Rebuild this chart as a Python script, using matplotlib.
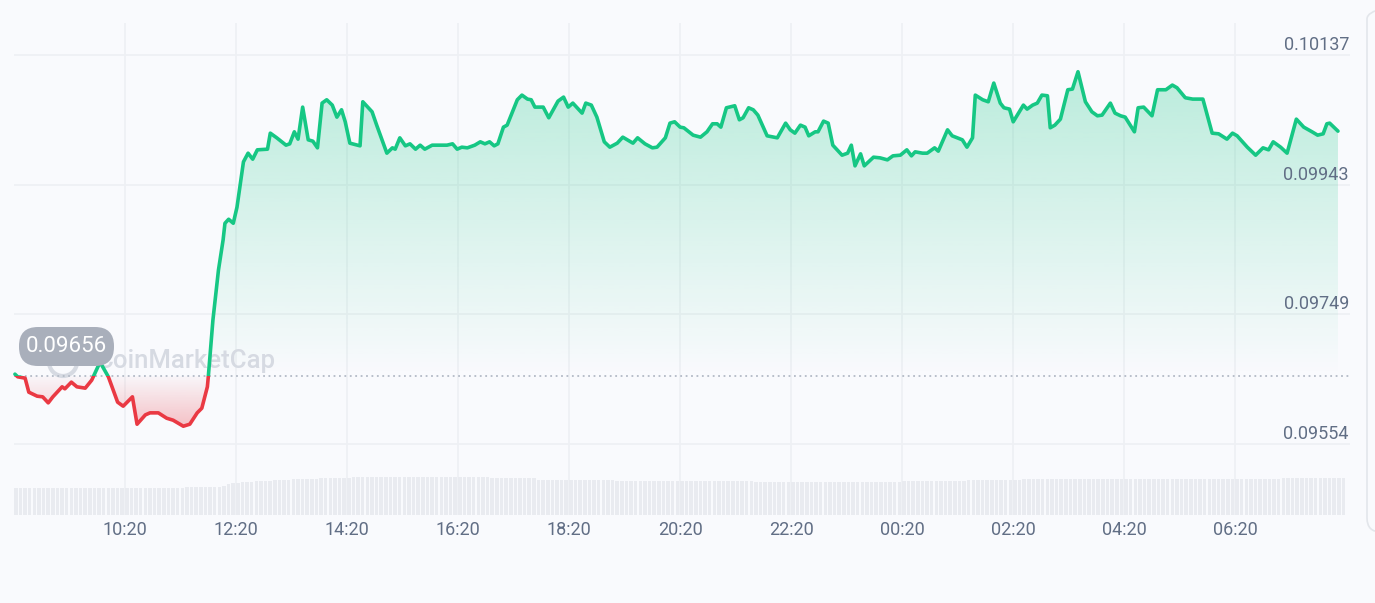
import numpy as np
import pandas as pd
import matplotlib
matplotlib.use("Agg")
import matplotlib.pyplot as plt
import matplotlib.dates as mdates
from matplotlib.colors import to_rgb
from matplotlib.patches import Rectangle, FancyBboxPatch, Circle
from matplotlib.path import Path
from matplotlib.transforms import IdentityTransform, blended_transform_factory, offset_copy

plt.rcParams['font.family'] = ['Roboto', 'DejaVu Sans']

# --- data ---
START = pd.Timestamp('2023-06-01 08:20')
BASELINE = 0.09656  # open price, dotted reference line

# minutes after 08:20
minutes = [
    1, 4, 12, 16, 25, 31, 37, 42, 52, 55, 62, 68, 77, 84, 93, 102, 112, 118, 128, 133,
    142, 147, 156, 165, 172, 183, 190, 198, 203, 209, 210, 215, 221, 226, 228, 232, 237, 241, 248, 253,
    258, 263, 274, 277, 284, 294, 298, 303, 307, 312, 318, 323, 328, 333, 338, 344, 349, 354, 358, 363,
    374, 377, 387, 392, 403, 409, 412, 417, 423, 428, 434, 439, 444, 452, 468, 474, 479, 484, 490, 498,
    504, 509, 514, 519, 523, 529, 533, 544, 549, 555, 559, 563, 572, 578, 588, 594, 599, 604, 614, 618,
    624, 630, 638, 644, 652, 658, 669, 674, 682, 690, 695, 704, 709, 714, 720, 724, 734, 742, 749, 755,
    760, 764, 770, 779, 784, 788, 794, 799, 804, 814, 825, 834, 839, 844, 850, 855, 859, 866, 869, 875,
    880, 885, 895, 901, 905, 909, 915, 919, 929, 936, 944, 950, 958, 965, 970, 974, 982, 987, 995, 999,
    1009, 1014, 1025, 1030, 1036, 1039, 1047, 1053, 1059, 1066, 1070, 1076, 1080, 1091, 1095, 1101, 1106, 1111, 1117, 1120,
    1125, 1131, 1139, 1144, 1150, 1158, 1165, 1171, 1176, 1185, 1190, 1196, 1201, 1211, 1215, 1221, 1230, 1236, 1245, 1252,
    1257, 1266, 1274, 1285, 1295, 1302, 1311, 1317, 1322, 1333, 1342, 1350, 1356, 1361, 1369, 1376, 1386, 1394, 1403, 1409,
    1415, 1419, 1422, 1431,
]
prices = [
    0.09659, 0.09655, 0.09653, 0.09632, 0.09626, 0.09625, 0.09616, 0.09625, 0.09640, 0.09637,
    0.09647, 0.09640, 0.09638, 0.09650, 0.09677, 0.09655, 0.09617, 0.09611, 0.09625, 0.09584,
    0.09598, 0.09601, 0.09601, 0.09593, 0.09590, 0.09581, 0.09584, 0.09601, 0.09608, 0.09640,
    0.09655, 0.09740, 0.09815, 0.09860, 0.09885, 0.09891, 0.09885, 0.09909, 0.09977, 0.09990,
    0.09981, 0.09995, 0.09996, 0.10020, 0.10013, 0.10002, 0.10004, 0.10022, 0.10011, 0.10059,
    0.10010, 0.10008, 0.09998, 0.10065, 0.10070, 0.10062, 0.10044, 0.10055, 0.10037, 0.10005,
    0.10001, 0.10067, 0.10052, 0.10032, 0.09990, 0.09998, 0.09996, 0.10013, 0.10001, 0.10004,
    0.09996, 0.10002, 0.09996, 0.10002, 0.10002, 0.10004, 0.09996, 0.09999, 0.09998, 0.10002,
    0.10007, 0.10004, 0.10007, 0.10001, 0.10004, 0.10029, 0.10032, 0.10070, 0.10077, 0.10071,
    0.10070, 0.10059, 0.10059, 0.10043, 0.10068, 0.10074, 0.10059, 0.10065, 0.10050, 0.10065,
    0.10062, 0.10044, 0.10007, 0.09999, 0.10005, 0.10014, 0.10005, 0.10013, 0.10004, 0.09998,
    0.09999, 0.10013, 0.10035, 0.10037, 0.10029, 0.10028, 0.10017, 0.10014, 0.10022, 0.10034,
    0.10034, 0.10029, 0.10058, 0.10061, 0.10040, 0.10043, 0.10058, 0.10055, 0.10047, 0.10016,
    0.10013, 0.10035, 0.10025, 0.10020, 0.10032, 0.10029, 0.10016, 0.10022, 0.10022, 0.10038,
    0.10035, 0.10002, 0.09987, 0.09990, 0.10002, 0.09971, 0.09989, 0.09971, 0.09984, 0.09983,
    0.09980, 0.09986, 0.09987, 0.09995, 0.09986, 0.09992, 0.09990, 0.09990, 0.09998, 0.09993,
    0.10025, 0.10016, 0.10010, 0.09999, 0.10013, 0.10077, 0.10070, 0.10067, 0.10095, 0.10065,
    0.10058, 0.10056, 0.10037, 0.10062, 0.10056, 0.10062, 0.10065, 0.10077, 0.10076, 0.10028,
    0.10032, 0.10041, 0.10085, 0.10086, 0.10112, 0.10067, 0.10052, 0.10046, 0.10047, 0.10065,
    0.10050, 0.10046, 0.10044, 0.10022, 0.10058, 0.10059, 0.10046, 0.10085, 0.10085, 0.10092,
    0.10088, 0.10073, 0.10071, 0.10071, 0.10020, 0.10019, 0.10011, 0.10020, 0.10016, 0.09999,
    0.09987, 0.09998, 0.09995, 0.10007, 0.09999, 0.09990, 0.10041, 0.10029, 0.10022, 0.10017,
    0.10019, 0.10034, 0.10035, 0.10023,
]

# 5-minute volume bars (24h rolling volume, $M), one row per hour
volumes = [
    40.5, 40.6, 40.6, 40.5, 40.6, 40.7, 40.6, 40.6, 40.5, 40.6, 40.6, 40.7,
    40.7, 40.6, 40.6, 40.7, 40.7, 40.6, 40.6, 40.7, 40.7, 40.8, 40.7, 40.7,
    40.8, 40.8, 40.9, 40.8, 40.9, 41.0, 41.0, 40.9, 41.0, 41.1, 41.1, 41.2,
    41.3, 41.4, 41.6, 41.7, 41.8, 41.9, 42.0, 42.2, 42.4, 44.3, 46.8, 48.0,
    48.6, 49.2, 49.7, 50.1, 50.5, 51.0, 51.4, 51.8, 52.2, 52.6, 52.9, 53.2,
    53.5, 53.8, 54.1, 54.3, 54.6, 54.8, 55.0, 55.2, 55.4, 55.6, 55.8, 56.0,
    56.3, 56.5, 56.7, 56.9, 57.0, 57.1, 57.2, 57.3, 57.3, 57.4, 57.4, 57.4,
    57.4, 57.4, 57.3, 57.3, 57.3, 57.2, 57.2, 57.1, 57.1, 57.0, 57.0, 56.9,
    56.9, 56.8, 56.8, 56.7, 56.6, 56.6, 56.5, 56.4, 56.4, 56.3, 56.2, 56.2,
    56.1, 56.0, 56.0, 55.9, 55.8, 53.2, 52.9, 52.8, 52.7, 52.7, 52.6, 52.6,
    52.5, 52.4, 52.4, 52.3, 52.2, 52.2, 52.1, 52.0, 52.0, 51.9, 51.8, 51.8,
    51.7, 51.7, 51.6, 51.6, 51.5, 51.5, 51.4, 51.4, 51.3, 51.3, 51.2, 51.2,
    51.2, 51.1, 51.1, 51.0, 51.0, 50.9, 50.9, 50.8, 50.8, 50.7, 50.7, 50.6,
    50.6, 50.5, 50.5, 50.4, 50.3, 50.2, 50.1, 50.0, 49.9, 49.8, 49.7, 49.7,
    49.6, 49.6, 49.5, 49.5, 49.4, 49.4, 49.4, 49.3, 49.3, 49.3, 49.2, 49.2,
    49.2, 49.3, 49.4, 49.5, 49.6, 49.7, 49.8, 49.9, 50.0, 50.1, 50.2, 50.3,
    50.4, 50.5, 50.6, 50.7, 50.8, 50.9, 51.0, 51.1, 51.2, 51.3, 51.4, 51.5,
    51.6, 51.8, 51.9, 52.1, 52.2, 52.4, 52.5, 52.7, 52.8, 52.9, 53.0, 53.1,
    53.2, 53.3, 53.4, 53.5, 53.6, 53.7, 53.8, 53.8, 53.9, 53.9, 54.0, 54.0,
    54.0, 54.1, 54.1, 54.1, 54.2, 54.2, 54.2, 54.2, 54.3, 54.3, 54.3, 54.3,
    54.3, 54.4, 54.4, 54.4, 54.4, 54.4, 54.5, 54.5, 54.5, 54.5, 54.5, 54.5,
    54.5, 54.6, 54.6, 54.6, 54.6, 54.6, 54.6, 54.7, 54.7, 54.7, 54.7, 54.7,
    54.7, 54.7, 54.8, 54.8, 54.8, 54.8, 54.8, 54.8, 54.8, 54.8, 54.9, 54.9,
    54.9, 54.9, 54.9, 54.9, 54.9, 55.0, 55.0, 55.0, 55.0, 55.0, 55.0, 55.0,
]

price_ticks = [0.09554, 0.09749, 0.09943, 0.10137]

GREEN = '#16c784'
RED = '#ea3943'
BG = '#f9fafd'
GRID = '#eef0f4'
TEXT = '#616e85'

W, H = 1375, 603

times = (START + pd.to_timedelta(minutes, unit='min')).to_numpy()
price = np.array(prices)
vol_times = (START + pd.to_timedelta(np.arange(len(volumes)) * 5, unit='min')).to_numpy()

fig = plt.figure(figsize=(W / 100, H / 100), dpi=100, facecolor=BG)
ax = fig.add_axes([14 / W, 1 - 515 / H, (1350 - 14) / W, (515 - 23) / H])
ax.set_facecolor(BG)

x_lo = mdates.date2num(START)
x_hi = mdates.date2num(START + pd.Timedelta(minutes=1444))
y_lo, y_hi = 0.09448, 0.10185


def gradient_fill(where, color, far, a_near, a_far):
    # fill between line and baseline, coloured with a vertical alpha ramp
    poly = ax.fill_between(times, price, BASELINE, where=where, interpolate=True,
                           facecolor='none', edgecolor='none')
    clip = Path.make_compound_path(*poly.get_paths())
    rgba = np.zeros((256, 1, 4))
    rgba[..., :3] = to_rgb(color)
    rgba[:, 0, 3] = np.linspace(a_near, a_far, 256)
    im = ax.imshow(rgba, extent=[x_lo, x_hi, BASELINE, far], origin='lower',
                   aspect='auto', interpolation='bilinear', zorder=1)
    im.set_clip_path(clip, transform=ax.transData)


gradient_fill(price >= BASELINE, GREEN, 0.10120, 0.0, 0.28)
gradient_fill(price <= BASELINE, RED, 0.09580, 0.02, 0.30)

# price line: green above the open, red below
for color, y0 in [(GREEN, BASELINE), (RED, BASELINE - 1)]:
    ln, = ax.plot(times, price, color=color, lw=2.6, solid_joinstyle='round',
                  solid_capstyle='round', zorder=4)
    ln.set_clip_path(Rectangle((x_lo - 1, y0), x_hi - x_lo + 2, 1, transform=ax.transData))

ax.axhline(BASELINE, color='#b3bac6', lw=1.3, ls=(0, (1, 2)), zorder=3)

# watermark
ax.text(97, H - 368, 'CoinMarketCap', transform=IdentityTransform(), fontsize=18.5,
        fontweight='medium', color='#d6dae2', zorder=2)
ax.add_artist(Circle((63, H - 362), 14, transform=IdentityTransform(), fc='none',
                     ec='#d6dae2', lw=3, zorder=2))

# axes styling
ax.set_xlim(x_lo, x_hi)
ax.set_ylim(y_lo, y_hi)
ax.set_yticks(price_ticks)
ax.set_xticks(pd.date_range(START + pd.Timedelta(hours=2), periods=11, freq='2h'))
ax.xaxis.set_major_formatter(mdates.DateFormatter('%H:%M'))
ax.grid(True, color=GRID, lw=1.2, zorder=0)
ax.set_axisbelow(True)
ax.tick_params(axis='x', length=0, pad=4, labelsize=13, labelcolor=TEXT)
ax.tick_params(axis='y', length=0, labelleft=False)
for s in ax.spines.values():
    s.set_visible(False)

lab_tr = offset_copy(blended_transform_factory(ax.transAxes, ax.transData),
                     fig=fig, x=-1, y=5, units='dots')
for v in price_ticks:
    ax.text(1.0, v, f'{v:.5f}', transform=lab_tr, ha='right', va='baseline',
            fontsize=13, color=TEXT, zorder=5)

# volume bars along the bottom
ax2 = ax.twinx()
ax2.bar(vol_times, volumes, width=3.8 / 1440, align='edge', color='#e9ebf0', zorder=1)
ax2.set_ylim(0, 740)
ax2.set_xlim(x_lo, x_hi)
ax2.axis('off')

# open price badge
fig.add_artist(FancyBboxPatch((19, H - 366), 95, 39, boxstyle='round,pad=0,rounding_size=19',
                              transform=IdentityTransform(), fc='#a9afbb', ec='none', zorder=10))
fig.text(66.5, H - 346, f'{BASELINE:.5f}', transform=IdentityTransform(), ha='center',
         va='center', fontsize=16, color='white', zorder=11)

# edge of the neighbouring card
fig.add_artist(FancyBboxPatch((1367, H - 532), 80, 527, boxstyle='round,pad=0,rounding_size=14',
                              transform=IdentityTransform(), fc='none', ec='#e3e6eb', lw=1.2))

fig.savefig('out.png', dpi=100, facecolor=BG)
